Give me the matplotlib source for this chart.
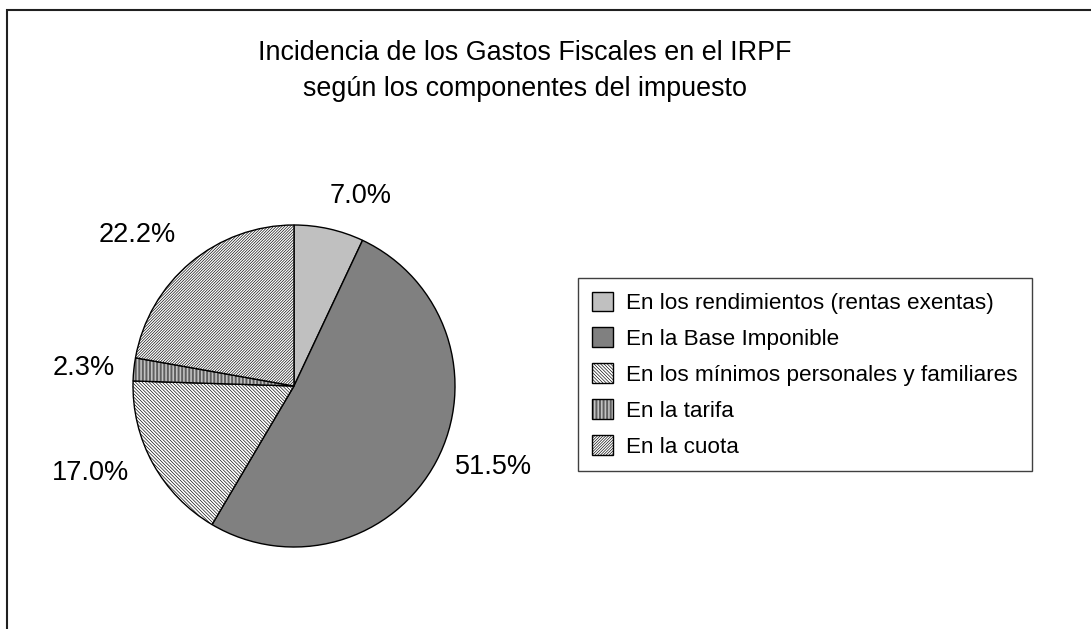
import matplotlib
matplotlib.use('Agg')
import matplotlib.pyplot as plt
from matplotlib.patches import Rectangle

plt.rcParams['font.family'] = ['Liberation Sans', 'DejaVu Sans']
plt.rcParams['hatch.linewidth'] = 0.45

# datos
categorias = ['En los rendimientos (rentas exentas)',
              'En la Base Imponible',
              'En los mínimos personales y familiares',
              'En la tarifa',
              'En la cuota']
porcentajes = [7.0, 51.5, 17.0, 2.3, 22.2]

# estilo de cada sector
colores = ['#c0c0c0', '#808080', 'white', 'white', 'white']
tramas = [None, None, '\\' * 10, '|' * 12, '/' * 12]

# posicion de las etiquetas (en radios, respecto al centro)
label_xy = [(0.416, 1.180), (1.242, -0.503), (-1.261, -0.540),
            (-1.304, 0.112), (-0.975, 0.938)]

W, H = 1091, 629
fig = plt.figure(figsize=(W / 100, H / 100), dpi=100)

# marco del grafico
fig.add_artist(Rectangle((7 / W, -0.1), 1.2, 1 - 10 / H + 0.1,
                         transform=fig.transFigure, fill=False,
                         edgecolor='#202020', linewidth=1.5))

cx, cy, r = 294, 386, 161
ax = fig.add_axes([(cx - r) / W, (H - cy - r) / H, 2 * r / W, 2 * r / H])
wedges, texts, autotexts = ax.pie(porcentajes, colors=colores, startangle=90,
                                  counterclock=False, autopct='%1.1f%%',
                                  wedgeprops=dict(edgecolor='black', linewidth=1.0),
                                  textprops=dict(fontsize=19.5, color='black'))
for w, h in zip(wedges, tramas):
    if h:
        w.set_hatch(h)
for t, xy in zip(autotexts, label_xy):
    t.set_position(xy)
    t.set_ha('center')
    t.set_va('center')
ax.set_xlim(-1, 1)
ax.set_ylim(-1, 1)
ax.set_aspect('equal')
ax.axis('off')

fig.text(525 / W, 1 - 71 / H,
         'Incidencia de los Gastos Fiscales en el IRPF\nsegún los componentes del impuesto',
         ha='center', va='center', fontsize=19.4, linespacing=1.55)

leg = fig.legend(wedges, categorias, loc='upper left',
                 bbox_to_anchor=(578 / W, 1 - 278 / H), borderaxespad=0,
                 fontsize=16.2, fancybox=False, framealpha=1,
                 edgecolor='#404040', handlelength=0.95, handleheight=0.95,
                 labelspacing=0.6, handletextpad=0.6, borderpad=0.6)
leg.get_frame().set_linewidth(1.0)

fig.savefig('out.png', dpi=100)
